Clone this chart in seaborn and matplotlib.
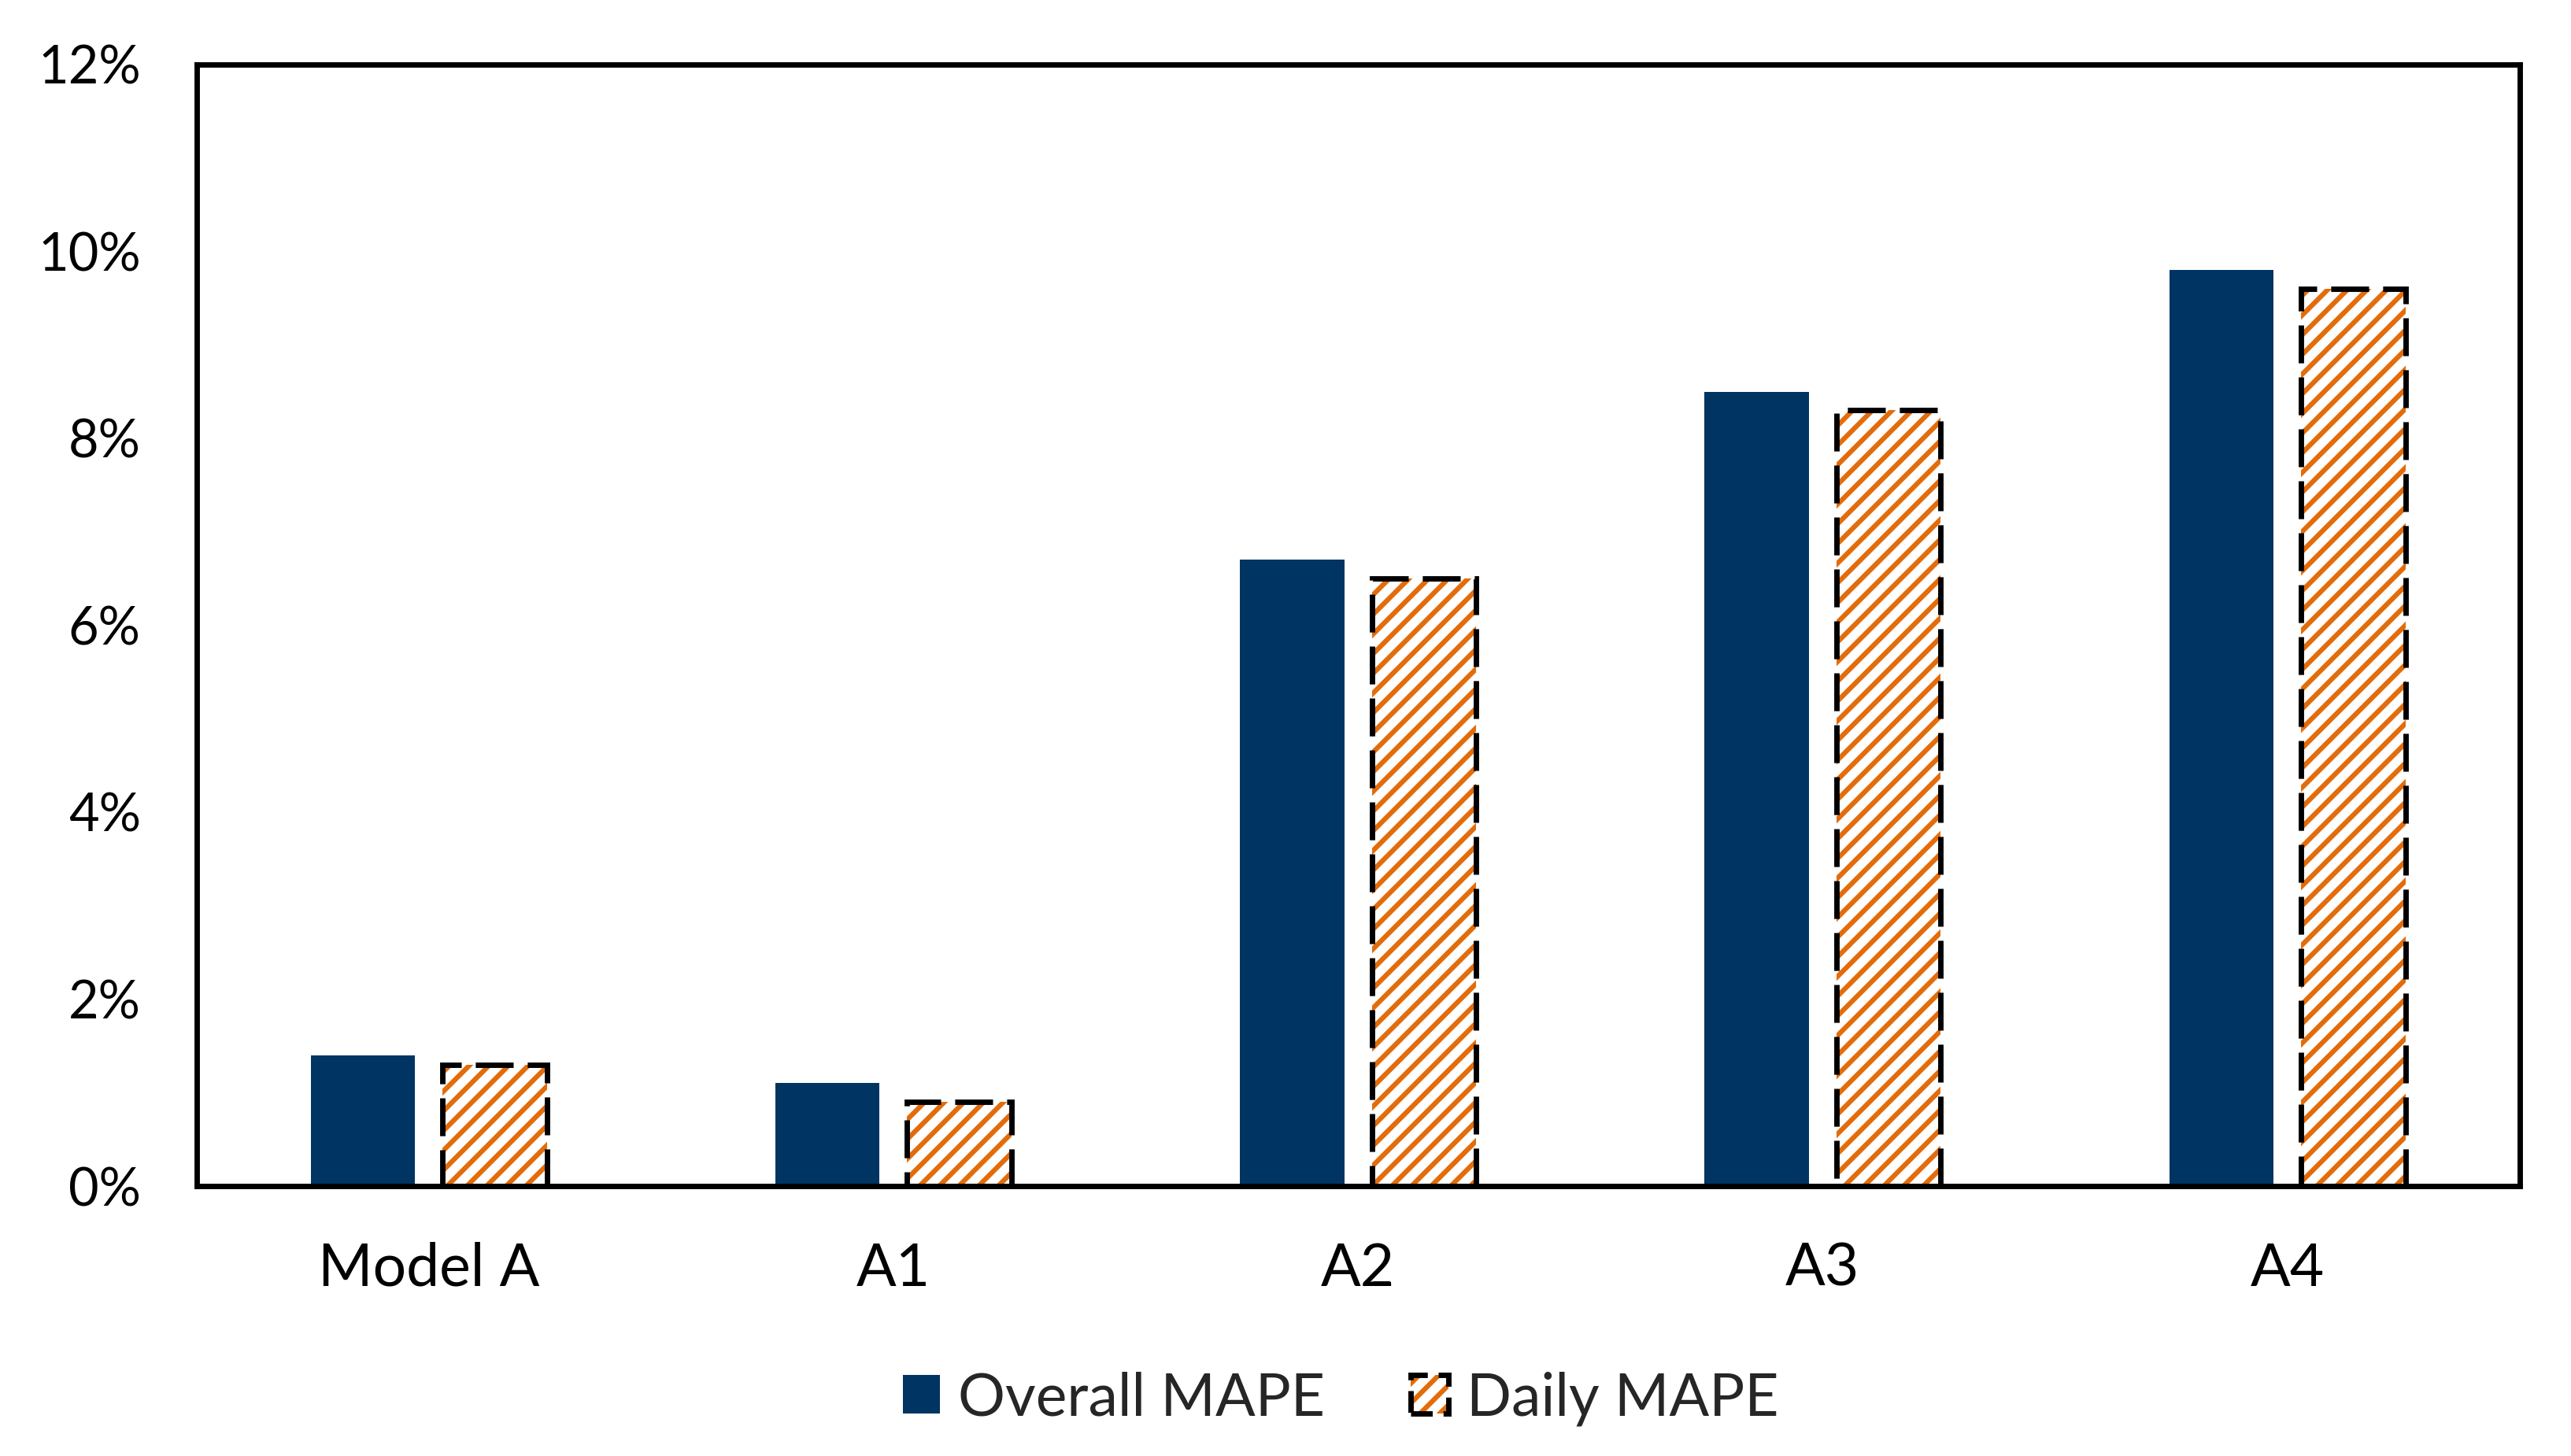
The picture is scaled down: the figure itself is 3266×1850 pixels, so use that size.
import matplotlib
matplotlib.use("Agg")
import matplotlib.pyplot as plt
import seaborn as sns
import pandas as pd
from matplotlib.patches import Patch, Rectangle
from matplotlib.legend_handler import HandlerTuple
from matplotlib.ticker import PercentFormatter

categories = ["Model A", "A1", "A2", "A3", "A4"]
overall_mape = [1.4, 1.1, 6.7, 8.5, 9.8]
daily_mape = [1.3, 0.9, 6.5, 8.3, 9.6]
series_names = ["Overall MAPE", "Daily MAPE"]
y_ticks = [0, 2, 4, 6, 8, 10, 12]

NAVY = "#003462"
ORANGE = "#E36C0A"

sns.set_theme(style="white")
plt.rcParams["font.family"] = ["Lato", "DejaVu Sans"]
plt.rcParams["hatch.linewidth"] = 3.0

df = pd.DataFrame({
    "Model": categories * 2,
    "Metric": [series_names[0]] * len(categories) + [series_names[1]] * len(categories),
    "Value": overall_mape + daily_mape,
})

DPI = 150
fig = plt.figure(figsize=(3266 / DPI, 1850 / DPI), dpi=DPI)
ax = fig.add_axes([0.0764, 0.1854, 0.980 - 0.0764, 0.9557 - 0.1854])

sns.barplot(data=df, x="Model", y="Value", hue="Metric", order=categories,
            hue_order=series_names, palette=[NAVY, "white"], width=0.568,
            gap=0.21, ax=ax, legend=False, errorbar=None, saturation=1)

# Overall bars: no edge
for p in ax.containers[0]:
    p.set_edgecolor("none")
    p.set_linewidth(0)

# Daily bars: orange hatch + black dashed outline
dash = (0, (7, 2.6))
for p in ax.containers[1]:
    p.set_facecolor("white")
    p.set_edgecolor(ORANGE)
    p.set_hatch("//")
    p.set_linewidth(0)
    r = Rectangle(p.get_xy(), p.get_width(), p.get_height(), fill=False,
                  edgecolor="black", linewidth=3.3, linestyle=dash,
                  zorder=p.get_zorder() + 0.1)
    ax.add_patch(r)

ax.set_xlim(-0.5, len(categories) - 0.5)
ax.set_ylim(0, 12)
ax.set_yticks(y_ticks)
ax.yaxis.set_major_formatter(PercentFormatter(decimals=0))
ax.set_xlabel("")
ax.set_ylabel("")
ax.tick_params(axis="both", length=0, colors="black")
ax.tick_params(axis="y", pad=34, labelsize=32)
ax.tick_params(axis="x", pad=34, labelsize=36)
for s in ax.spines.values():
    s.set_visible(True)
    s.set_color("black")
    s.set_linewidth(3.3)

h1 = Patch(facecolor=NAVY, edgecolor="none")
h2a = Patch(facecolor="white", edgecolor=ORANGE, hatch="//", linewidth=0)
h2b = Patch(fill=False, edgecolor="black", linewidth=3.3, linestyle=(0, (4, 2)))
fig.legend([h1, (h2a, h2b)], series_names, loc="center", bbox_to_anchor=(0.5215, 0.0395),
           ncol=2, frameon=False, fontsize=36, handlelength=0.63, handleheight=0.63,
           handletextpad=0.31, columnspacing=1.45, borderpad=0,
           handler_map={tuple: HandlerTuple(ndivide=1)})

fig.savefig("out.png", dpi=DPI, facecolor="white")
